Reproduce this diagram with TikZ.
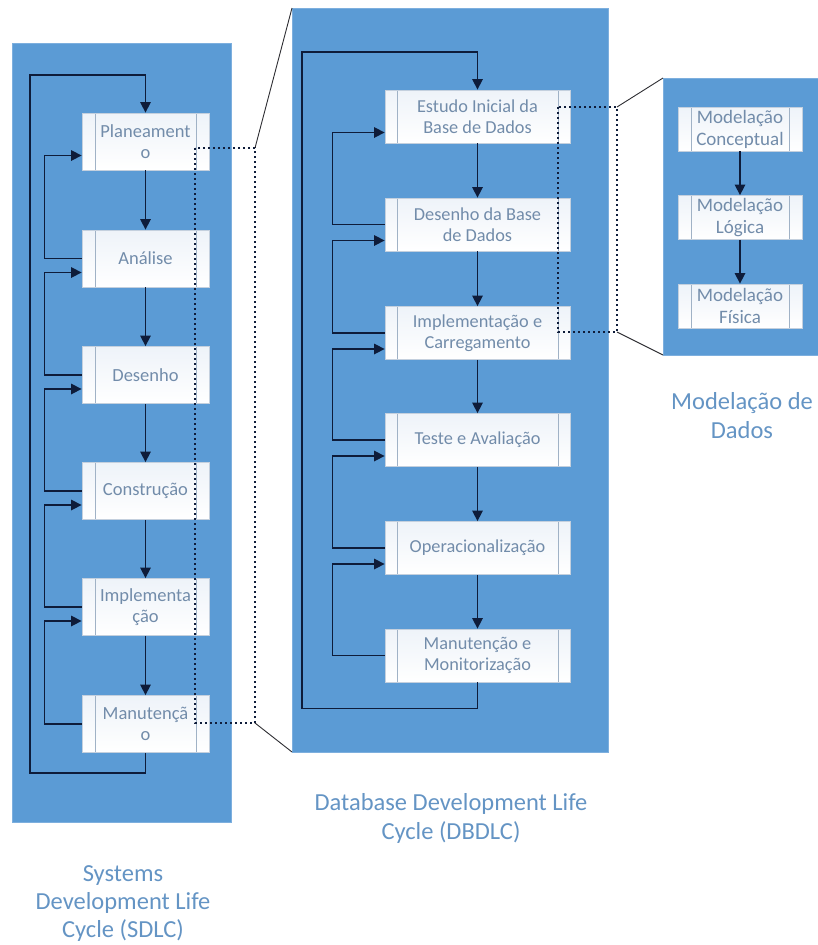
\documentclass[tikz,border=0pt]{standalone}
\usepackage{fontspec}
\setmainfont{Carlito}
\usetikzlibrary{arrows.meta}
\definecolor{panelblue}{RGB}{91,155,213}
\definecolor{panelrim}{RGB}{125,175,222}
\definecolor{flowc}{RGB}{14,28,58}
\definecolor{boxtext}{RGB}{114,140,170}
\definecolor{boxline}{RGB}{196,208,222}
\definecolor{boxinner}{RGB}{160,178,198}
\definecolor{boxtop}{RGB}{238,243,249}
\definecolor{captionc}{RGB}{100,148,196}
\definecolor{linkc}{RGB}{45,45,50}
\tikzset{
  panel/.style={fill=panelblue, draw=panelrim, line width=1pt},
  procbox/.style={draw=boxline, top color=boxtop, bottom color=white,
    text=boxtext, align=center, inner sep=0pt, line width=0.8pt,
    path picture={
      \draw[boxinner, line width=0.8pt]
        ([xshift=\procin]path picture bounding box.north west) --
        ([xshift=\procin]path picture bounding box.south west)
        ([xshift=-\procin]path picture bounding box.north east) --
        ([xshift=-\procin]path picture bounding box.south east);
    }},
  sdlcbox/.style={procbox, minimum width=127pt, minimum height=57pt,
    font=\fontsize{18.5}{21}\selectfont},
  dbbox/.style={procbox, minimum width=185pt, minimum height=53pt,
    font=\fontsize{18.3}{20.5}\selectfont},
  modbox/.style={procbox, minimum width=124pt, minimum height=44pt,
    font=\fontsize{19}{22}\selectfont},
  flow/.style={draw=flowc, line width=1.5pt,
    -{Triangle[length=10.5pt,width=10.5pt]}},
  dotline/.style={draw=flowc, line width=1.9pt, dash pattern=on 1.9pt off 3.1pt},
  zoomlink/.style={draw=linkc, line width=0.9pt},
  caption/.style={text=captionc, align=center,
    font=\fontsize{24.5}{29}\selectfont},
}
\newcommand{\procin}{13pt}
\begin{document}
\begin{tikzpicture}[x=1pt, y=-1pt]
\useasboundingbox (0,0) rectangle (818,945);

% ---------- background panels ----------
\draw[panel] (12,43) rectangle (231,822);
\draw[panel] (292,8) rectangle (608,752);
\draw[panel] (663,78) rectangle (818,355);

% ---------- SDLC ----------
\node[sdlcbox] (s1) at (145.5,141.5) {Planeament\\o};
\node[sdlcbox] (s2) at (145.5,258.5) {Análise};
\node[sdlcbox] (s3) at (145.5,375)   {Desenho};
\node[sdlcbox] (s4) at (145.5,491)   {Construção};
\node[sdlcbox] (s5) at (145.5,607)   {Implementa\\ção};
\node[sdlcbox] (s6) at (145.5,724)   {Manutençã\\o};

\foreach \a/\b in {s1/s2,s2/s3,s3/s4,s4/s5,s5/s6}
  \draw[flow] (\a.south) -- (\b.north);
\foreach \a/\b in {s2/s1,s3/s2,s4/s3,s5/s4,s6/s5}
  \draw[flow] (\a.west) -- ++(-37,0) |- ([yshift=-14pt]\b.west);
\draw[flow] (s6.south) -- ++(0,20) -| (30,75) -| (s1.north);

% ---------- DBDLC ----------
\renewcommand{\procin}{12pt}
\node[dbbox] (d1) at (477.5,116.5) {Estudo Inicial da\\Base de Dados};
\node[dbbox] (d2) at (477.5,224.5) {Desenho da Base\\de Dados};
\node[dbbox] (d3) at (477.5,333)   {Implementação e\\Carregamento};
\node[dbbox] (d4) at (477.5,440)   {Teste e Avaliação};
\node[dbbox] (d5) at (477.5,548)   {Operacionalização};
\node[dbbox] (d6) at (477.5,655.5) {Manutenção e\\Monitorização};

\foreach \a/\b in {d1/d2,d2/d3,d3/d4,d4/d5,d5/d6}
  \draw[flow] (\a.south) -- (\b.north);
\foreach \a/\b in {d2/d1,d3/d2,d4/d3,d5/d4,d6/d5}
  \draw[flow] (\a.west) -- ++(-52,0) |- ([yshift=-16pt]\b.west);
\draw[flow] (d6.south) -- ++(0,26) -| (302,52) -| (d1.north);

% ---------- data modelling ----------
\renewcommand{\procin}{13pt}
\node[modbox] (m1) at (740,129)   {Modelação\\Conceptual};
\node[modbox] (m2) at (740,217.5) {Modelação\\Lógica};
\node[modbox] (m3) at (740,306)   {Modelação\\Física};
\draw[flow] (m1.south) -- (m2.north);
\draw[flow] (m2.south) -- (m3.north);

% ---------- zoom markers ----------
\coordinate (za) at (195,148);
\coordinate (zb) at (255,723);
\coordinate (zc) at (558,107);
\coordinate (zd) at (617,332);
\draw[dotline] (za) rectangle (zb);
\draw[dotline] (zc) rectangle (zd);
\draw[zoomlink] (za -| zb) -- (292,8);
\draw[zoomlink] (zb) -- (292,752);
\draw[zoomlink] (zc -| zd) -- (663,78);
\draw[zoomlink] (zd) -- (663,355);

% ---------- captions ----------
\node[caption] (capm) at (742,416) {Modelação de\\Dados};
\node[caption] (capd) at (451,818) {Database Development Life\\Cycle (DBDLC)};
\node[caption, font=\fontsize{24.5}{28}\selectfont] (caps) at (123,904)
  {Systems\\Development Life\\Cycle (SDLC)};
\end{tikzpicture}
\end{document}
